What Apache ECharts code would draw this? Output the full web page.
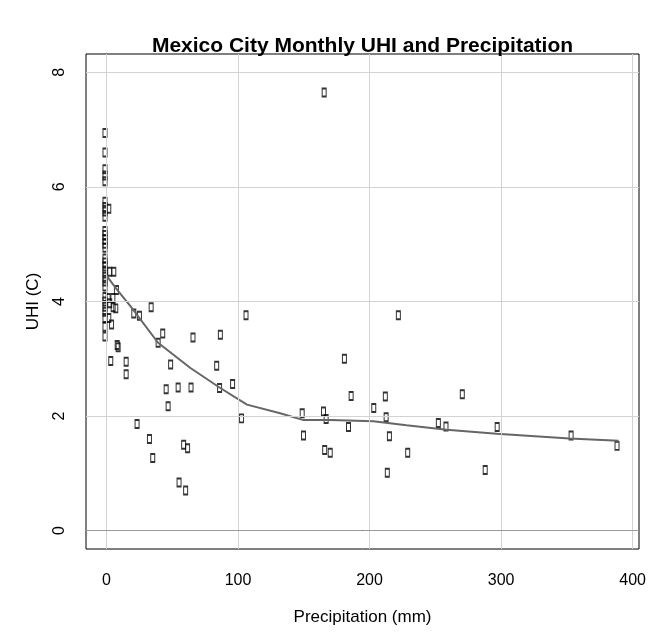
<!DOCTYPE html>
<html>
<head>
<meta charset="utf-8">
<script src="https://cdn.jsdelivr.net/npm/echarts@6/dist/echarts.min.js"></script>
<style>
  html, body { margin: 0; padding: 0; background: #fff; }
  #chart { width: 649px; height: 632px; }
</style>
</head>
<body>
<div id="chart"></div>
<script>
// Monthly observations: precipitation (mm) and urban heat island intensity (C)
const precipitation = [
  0, 0, 0, 0, 0, 0, 0, 0, 0, 0, 0, 0, 0, 0, 0, 0, 0, 0, 0, 0, 0, 0, 0, 0, 0, 0, 0, 0,
  2.9, 3.6, 6.7, 8.7, 2.4, 6.0, 3.6, 6.2, 8.2, 2.9, 5.0, 9.3, 10.0, 4.4, 16.1, 16.1, 21.9, 26.2, 35.1,
  40.4, 43.9, 66.9, 87.7, 107.2, 49.9, 84.9, 46.5, 55.6, 65.4, 87.1, 97.0, 48.0, 103.8, 24.4, 33.8, 59.8, 62.8, 36.3, 56.3, 61.3,
  223.0, 182.0, 187.1, 213.1, 204.3, 271.6, 149.9, 166.1, 168.1, 213.7, 185.1, 253.4, 259.2, 298.1, 150.9, 216.2, 354.3, 389.2, 167.0, 171.2, 230.1, 289.0, 214.6, 166.6
];
const uhi = [
  6.94, 6.60, 6.31, 6.20, 6.10, 5.74, 5.65, 5.57, 5.48, 5.23, 5.16, 5.08, 5.01, 4.94, 4.75, 4.68, 4.61, 4.52, 4.43, 4.35, 4.26, 4.08, 4.00, 3.91, 3.82, 3.71, 3.56, 3.39,
  5.62, 4.52, 4.52, 4.20, 4.06, 4.06, 3.97, 3.90, 3.88, 3.71, 3.60, 3.24, 3.20, 2.96, 2.95, 2.73, 3.79, 3.75, 3.90,
  3.28, 3.44, 3.37, 3.42, 3.76, 2.90, 2.88, 2.47, 2.50, 2.50, 2.49, 2.56, 2.17, 1.96, 1.86, 1.60, 1.50, 1.44, 1.27, 0.84, 0.70,
  3.76, 3.00, 2.35, 2.34, 2.14, 2.38, 2.05, 2.08, 1.95, 1.98, 1.81, 1.88, 1.82, 1.81, 1.66, 1.65, 1.66, 1.48, 1.41, 1.36, 1.36, 1.06, 1.01, 7.65
];

// Smoothed (lowess) trend
const trendPrecip = [0, 8.3, 18.2, 39.2, 63.8, 86.5, 106.8, 132.0, 149.8, 170.0, 202.9, 228.0, 258.6, 296.6, 352.0, 389.2];
const trendUhi    = [4.45, 4.20, 3.92, 3.28, 2.84, 2.49, 2.20, 2.05, 1.93, 1.93, 1.91, 1.84, 1.76, 1.69, 1.61, 1.57];

// Axis ticks
const xTicks = [0, 100, 200, 300, 400];
const yTicks = [0, 2, 4, 6, 8];
const yLimits = [0, 8];

// Plot region (box) in pixels
const box = { left: 86, top: 54, width: 553, height: 495 };
const W = 649, H = 632;

// Data ranges padded by 4% on each side
const xDataMin = Math.min(...precipitation), xDataMax = Math.max(...precipitation);
const xPad = (xDataMax - xDataMin) * 0.04;
const xMin = xDataMin - xPad, xMax = xDataMax + xPad;
const yPad = (yLimits[1] - yLimits[0]) * 0.04;
const yMin = yLimits[0] - yPad, yMax = yLimits[1] + yPad;

// Inner grid spanning exactly the tick range, aligned with the box scale
const px = v => box.left + (v - xMin) / (xMax - xMin) * box.width;
const py = v => box.top + (yMax - v) / (yMax - yMin) * box.height;
const tickGrid = {
  left: px(xTicks[0]),
  right: W - px(xTicks[xTicks.length - 1]),
  top: py(yTicks[yTicks.length - 1]),
  bottom: H - py(yTicks[0])
};
const xOffset = (box.top + box.height) - py(yTicks[0]);
const yOffset = px(xTicks[0]) - box.left;

const points = precipitation.map((p, i) => [p, uhi[i]]);
const trend = trendPrecip.map((p, i) => [p, trendUhi[i]]);

const font = 'Liberation Sans, Arial, Helvetica, sans-serif';

const gridLines = [
  ...xTicks.map(v => ({ xAxis: v })),
  ...yTicks.map(v => ({ yAxis: v, lineStyle: v === 0 ? { color: '#9a9a9a' } : undefined }))
];

const hiddenParts = {
  axisLine: { show: false }, axisTick: { show: false },
  axisLabel: { show: false }, splitLine: { show: false }
};

const chart = echarts.init(document.getElementById('chart'), null, { renderer: 'canvas' });
chart.setOption({
  animation: false,
  backgroundColor: '#fff',
  title: {
    text: 'Mexico City Monthly UHI and Precipitation',
    left: box.left + box.width / 2,
    top: 36,
    textAlign: 'center',
    padding: 0,
    textStyle: { fontFamily: font, fontSize: 21, fontWeight: 'bold', color: '#000' }
  },
  grid: [
    { left: tickGrid.left, right: tickGrid.right, top: tickGrid.top, bottom: tickGrid.bottom, show: false },
    { left: box.left, top: box.top, width: box.width, height: box.height,
      show: true, borderColor: '#000', borderWidth: 1, backgroundColor: 'rgba(0,0,0,0)' }
  ],
  xAxis: [
    {
      gridIndex: 0, type: 'value', min: xTicks[0], max: xTicks[xTicks.length - 1], interval: 100,
      position: 'bottom', offset: xOffset,
      axisLine: { show: true, lineStyle: { color: '#000', width: 1 } },
      axisTick: { show: true, length: 9, inside: false, lineStyle: { color: '#000', width: 1 } },
      axisLabel: { margin: 24, fontFamily: font, fontSize: 16, color: '#000' },
      splitLine: { show: false }
    },
    Object.assign({
      gridIndex: 1, type: 'value', min: xMin, max: xMax, position: 'bottom',
      name: 'Precipitation (mm)', nameLocation: 'middle', nameGap: 60,
      nameTextStyle: { fontFamily: font, fontSize: 17, color: '#000' }
    }, hiddenParts)
  ],
  yAxis: [
    {
      gridIndex: 0, type: 'value', min: yTicks[0], max: yTicks[yTicks.length - 1], interval: 2,
      position: 'left', offset: yOffset,
      axisLine: { show: true, lineStyle: { color: '#000', width: 1 } },
      axisTick: { show: true, length: 9, inside: false, lineStyle: { color: '#000', width: 1 } },
      axisLabel: { margin: 18, rotate: 90, fontFamily: font, fontSize: 16, color: '#000' },
      splitLine: { show: false }
    },
    Object.assign({
      gridIndex: 1, type: 'value', min: yMin, max: yMax, position: 'left',
      name: 'UHI (C)', nameLocation: 'middle', nameGap: 44,
      nameTextStyle: { fontFamily: font, fontSize: 17, color: '#000' }
    }, hiddenParts)
  ],
  series: [
    {
      type: 'scatter', xAxisIndex: 1, yAxisIndex: 1, data: [], z: 1, silent: true,
      markLine: {
        silent: true, symbol: ['none', 'none'], label: { show: false },
        lineStyle: { color: '#d3d3d3', width: 1, type: 'solid' },
        emphasis: { disabled: true },
        data: gridLines
      }
    },
    {
      type: 'scatter', xAxisIndex: 1, yAxisIndex: 1, data: points, z: 3,
      symbol: 'rect', symbolSize: [4, 8], symbolOffset: [-1.5, 0],
      itemStyle: { color: 'rgba(0,0,0,0)', borderColor: '#000', borderWidth: 1.4 }
    },
    {
      type: 'line', xAxisIndex: 1, yAxisIndex: 1, data: trend, z: 4,
      showSymbol: false, symbol: 'none', smooth: false,
      lineStyle: { color: '#666', width: 2 }
    }
  ]
});
</script>
</body>
</html>
